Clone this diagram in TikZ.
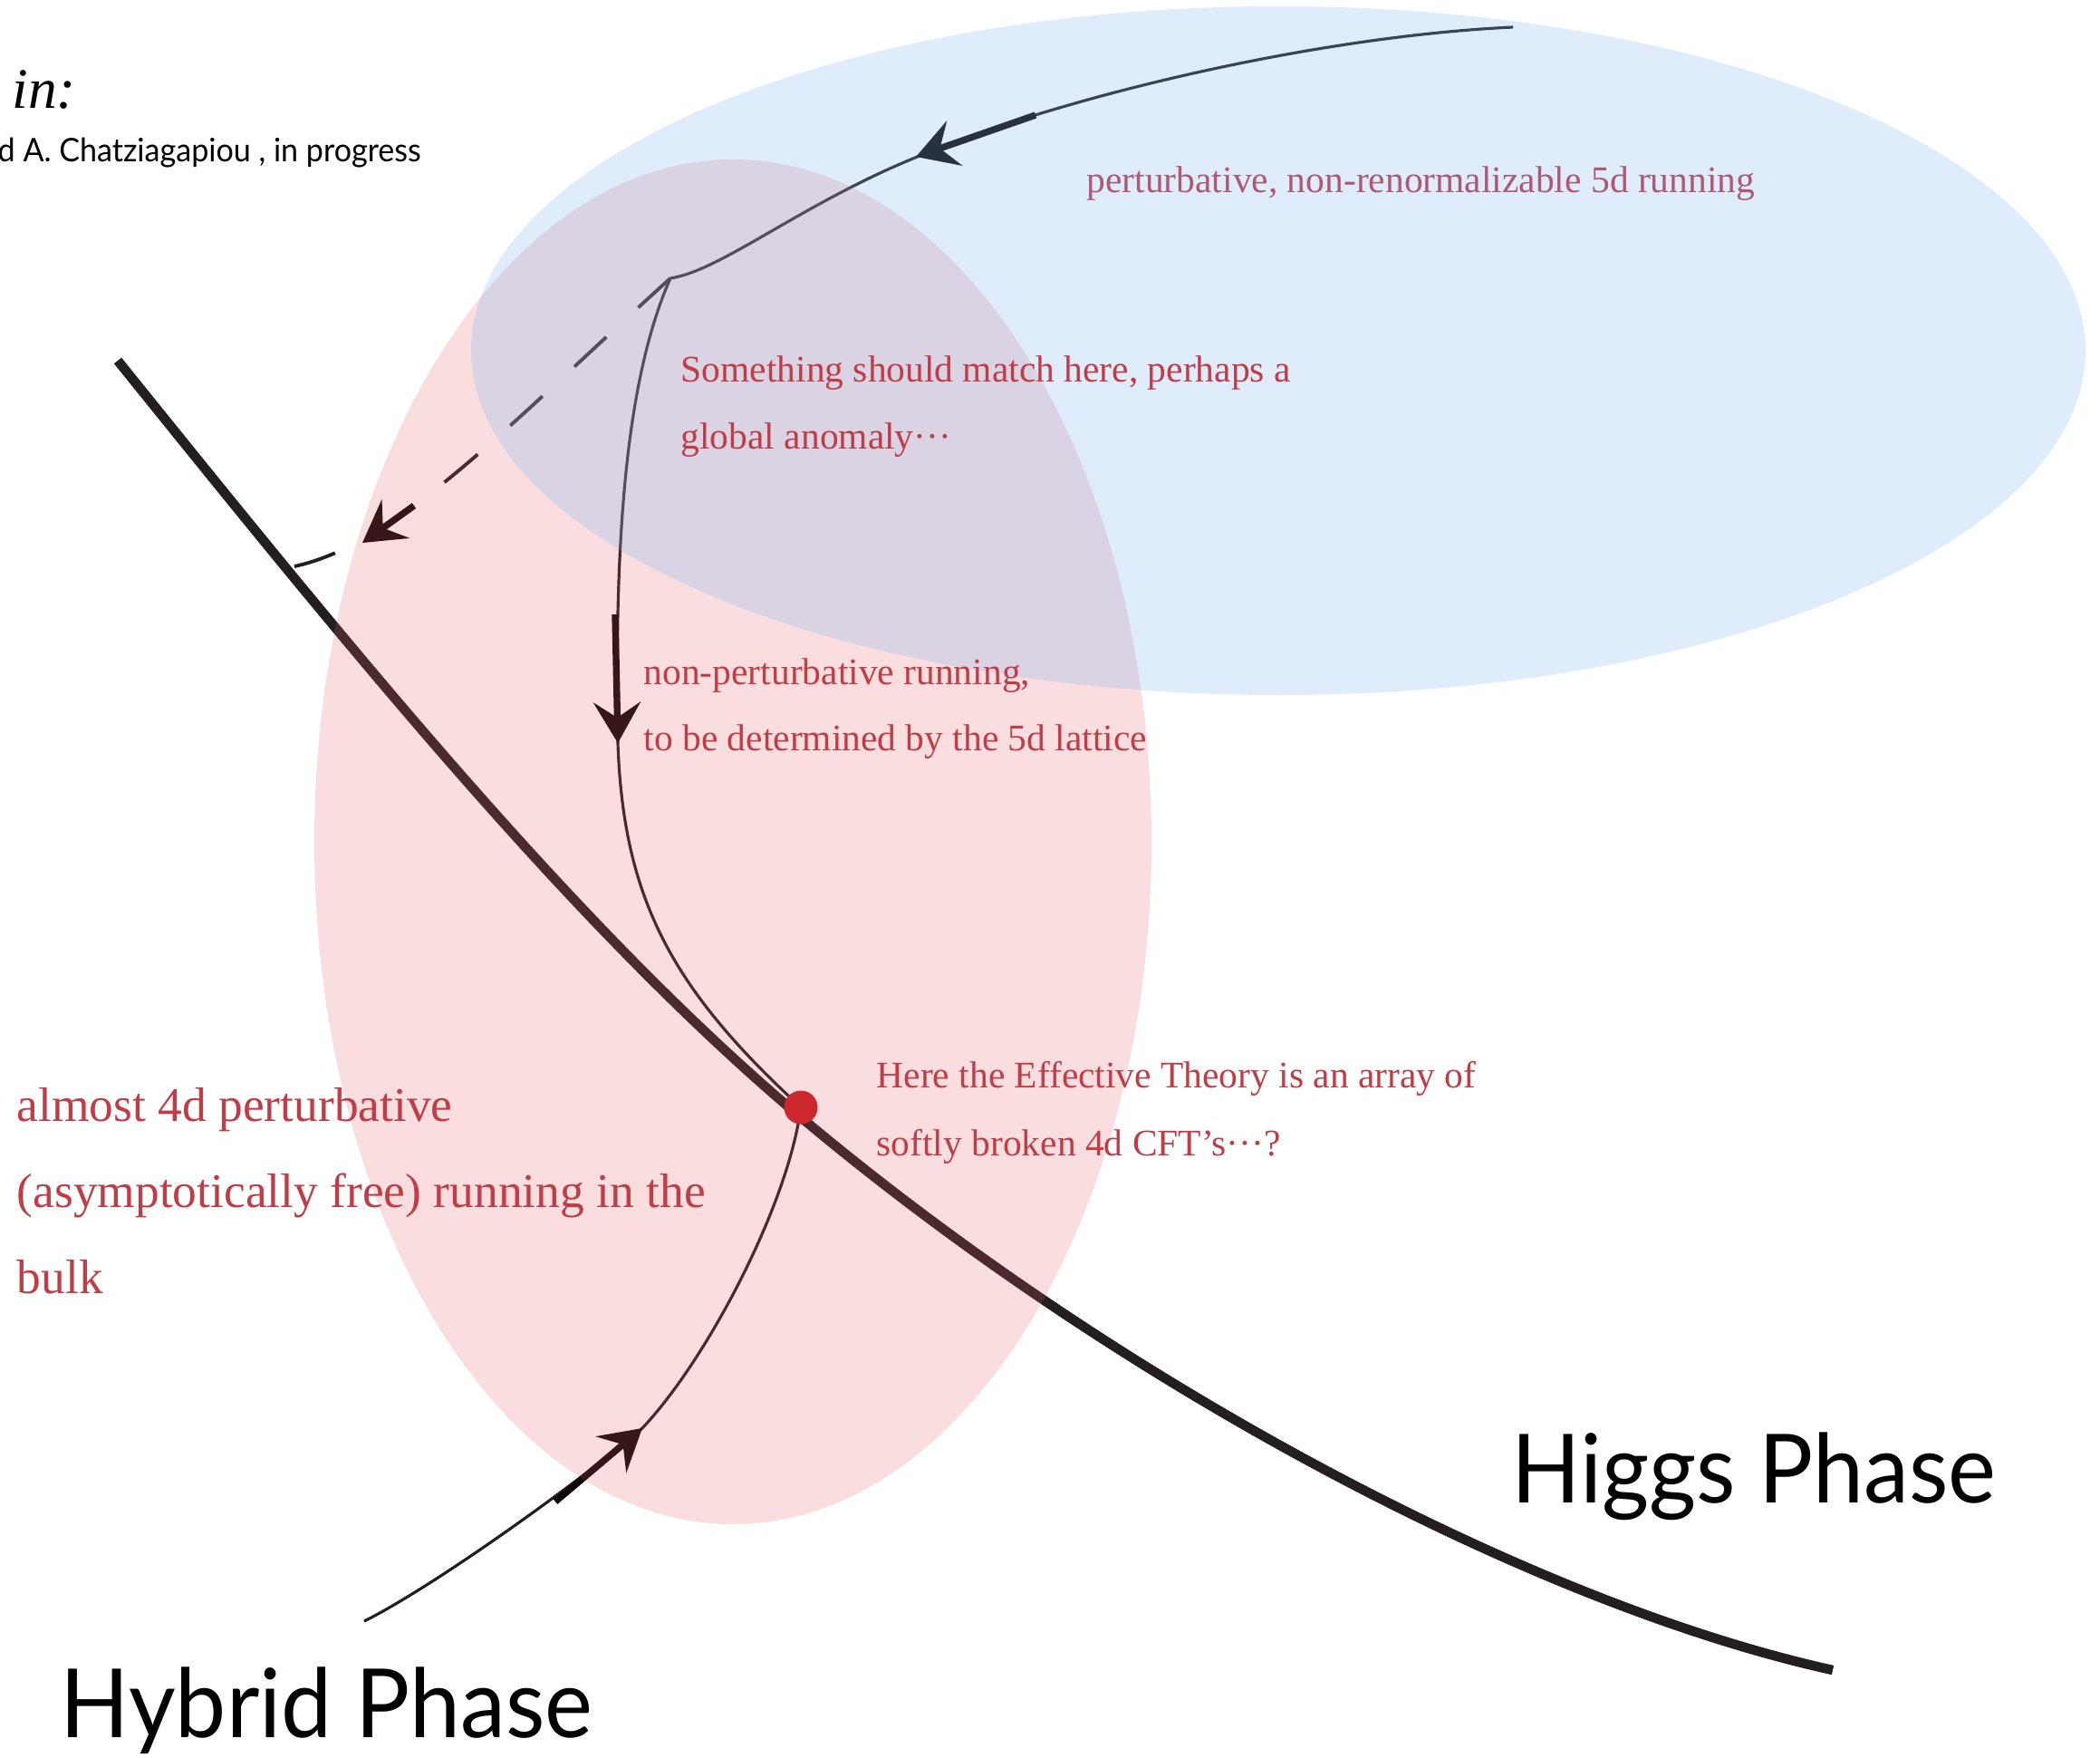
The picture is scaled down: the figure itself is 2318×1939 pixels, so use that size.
\documentclass[tikz,border=0pt]{standalone}
\usepackage{fontspec}
\setmainfont{Liberation Serif}
\newfontfamily\phasefont[FakeStretch=0.95]{Lato}
\usepackage{tikz}
\usetikzlibrary{arrows.meta}
\definecolor{inkdark}{RGB}{35,31,32}
\definecolor{arrowink}{RGB}{12,6,8}
\definecolor{fillred}{RGB}{230,89,94}
\definecolor{fillblue}{RGB}{123,179,243}
\definecolor{dotred}{RGB}{204,40,46}
\definecolor{textred}{RGB}{192,60,70}
\tikzset{
  phaseline/.style={line width=3pt, draw=inkdark},
  flow/.style={line width=0.9pt, draw=inkdark},
  flowdash/.style={flow, line width=1.1pt, dash pattern=on 0.48cm off 0.48cm},
  headarrow/.style={-{Stealth[length=4.5mm, width=5.2mm, inset=1.7mm]}, line width=2.1pt, draw=arrowink},
  blobred/.style={fill=fillred, fill opacity=0.2},
  blobblue/.style={fill=fillblue, fill opacity=0.25},
  redtxt/.style={text=textred, font=\fontsize{11.8}{21}\selectfont, anchor=base west, inner sep=0pt},
  bigtxt/.style={redtxt, font=\fontsize{15.2}{27}\selectfont},
  phasetxt/.style={text=black, font=\phasefont\fontsize{30}{36}\selectfont, anchor=base west, inner sep=0pt},
}
\begin{document}
\begin{tikzpicture}[x=0.01cm, y=-0.01cm]
  \useasboundingbox (0,0) rectangle (2318,1939);
  \clip (0,0) rectangle (2318,1939);

  % end points of the flows
  \coordinate (uvtop) at (1670,30);
  \coordinate (kink) at (740,307);
  \coordinate (fixpt) at (884,1222);
  \coordinate (dashend) at (325,625);
  \coordinate (hybstart) at (402,1789);
  \coordinate (pbtop) at (130,398);
  \coordinate (pbend) at (2023,1843);

  % phase boundary
  \draw[phaseline] (pbtop) .. controls (380,708) and (634,1023) .. (884,1233)
                   .. controls (1232,1525) and (1688,1769) .. (pbend);

  % RG flows
  \draw[flow] (uvtop) .. controls (1450,40) and (1150,110) .. (980,187)
              .. controls (870,237) and (790,300) .. (kink);
  \draw[flow] (kink) .. controls (690,420) and (678,600) .. (682,820)
              .. controls (688,990) and (740,1090) .. (fixpt);
  \draw[flowdash] (kink) .. controls (560,470) and (440,600) .. (dashend);
  \draw[flow] (hybstart) .. controls (480,1750) and (640,1635) .. (709,1576)
              .. controls (780,1501) and (870,1330) .. (fixpt);

  % arrow heads
  \coordinate (a1s) at (1143,127); \coordinate (a1t) at (1011,173);
  \coordinate (a2s) at (457,558);  \coordinate (a2t) at (400,599);
  \coordinate (a3s) at (679,678);  \coordinate (a3t) at (682,820);
  \coordinate (a4s) at (613,1657); \coordinate (a4t) at (709,1576);
  \foreach \s/\t in {a1s/a1t, a2s/a2t, a3s/a3t, a4s/a4t}
    \draw[headarrow] (\s) -- (\t);

  \node[redtxt] (pertlbl) at (1199,212) {perturbative, non-renormalizable 5d running};

  % regions
  \fill[blobred] (809,929) ellipse [x radius=462, y radius=753];
  \fill[blobblue] (1411,387) ellipse [x radius=891, y radius=380];

  \node[circle, fill=dotred, inner sep=0pt, minimum size=0.37cm] (fixdot) at (fixpt) {};

  % labels
  \node[redtxt] (match1) at (751,421) {Something should match here, perhaps a};
  \node[redtxt] (match2) at (751,495) {global anomaly···};
  \node[redtxt] (np1) at (710,755) {non-perturbative running,};
  \node[redtxt] (np2) at (710,828) {to be determined by the 5d lattice};
  \node[redtxt] (eff1) at (967,1200) {Here the Effective Theory is an array of};
  \node[redtxt] (eff2) at (967,1275) {softly broken 4d CFT’s···?};
  \node[bigtxt] (bulk1) at (18,1237) {almost 4d perturbative};
  \node[bigtxt] (bulk2) at (18,1332) {(asymptotically free) running in the};
  \node[bigtxt] (bulk3) at (18,1427) {bulk};
  \node[phasetxt] (higgs) at (1668,1658) {Higgs Phase};
  \node[phasetxt] (hybrid) at (66,1917) {Hybrid Phase};
  \node[anchor=base west, inner sep=0pt, font=\fontsize{18}{20}\selectfont\itshape] (inlbl) at (13,120) {in:};
  \node[anchor=base west, inner sep=0pt, font=\phasefont\fontsize{10.2}{12}\selectfont] (reflbl) at (-3,178) {d A. Chatziagapiou , in progress};
\end{tikzpicture}
\end{document}
